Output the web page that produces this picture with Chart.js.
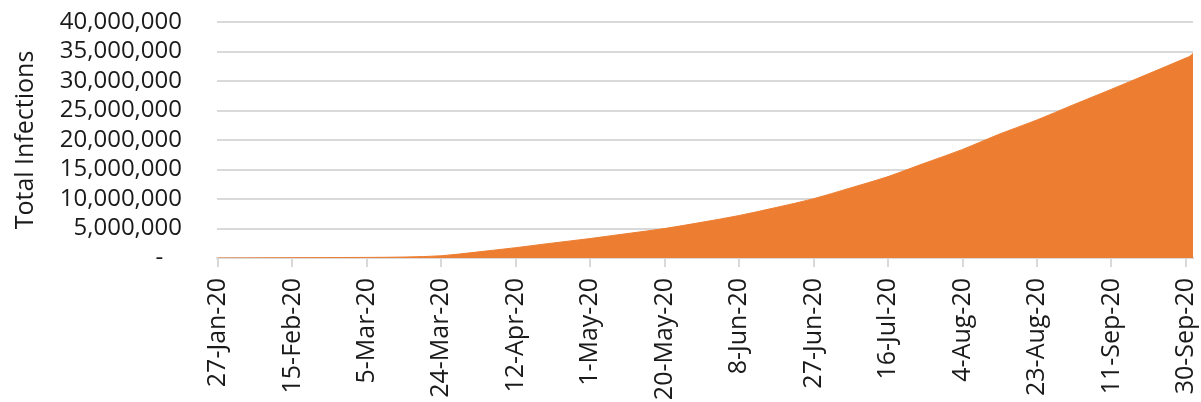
<!DOCTYPE html>
<html>
<head>
<meta charset="utf-8">
<script src="https://cdn.jsdelivr.net/npm/chart.js@4"></script>
<style>
  html, body { margin: 0; padding: 0; background: #fff; overflow: hidden; }
  #wrap { width: 1201px; height: 402px; }
</style>
</head>
<body>
<div id="wrap"><canvas id="grafica"></canvas></div>
<script>
// ── DATOS ─────────────────────────────────────────────
// days since 27-Jan-20
const dayOffsets      = [0, 19, 38, 43, 48, 57, 66, 76, 85, 95, 104, 114, 123, 133, 142, 152, 161, 171, 180, 190, 199, 209, 218, 228, 237, 247, 248, 249];
const totalInfections = [0, 50000, 100000, 120000, 170000, 380000, 1000000, 1750000, 2500000, 3300000, 4100000, 5000000, 6000000, 7200000, 8500000, 10050000, 11800000, 13800000, 16000000, 18400000, 20900000, 23400000, 25900000, 28600000, 31100000, 33900000, 34200000, 34800000];
const tickDays        = [0, 19, 38, 57, 76, 95, 114, 133, 152, 171, 190, 209, 228, 247];
const tickLabels      = ['27-Jan-20', '15-Feb-20', '5-Mar-20', '24-Mar-20', '12-Apr-20', '1-May-20', '20-May-20',
                         '8-Jun-20', '27-Jun-20', '16-Jul-20', '4-Aug-20', '23-Aug-20', '11-Sep-20', '30-Sep-20'];
const yTicks          = [0, 5000000, 10000000, 15000000, 20000000, 25000000, 30000000, 35000000, 40000000];

const naranja = '#ED7D31';
const gris    = '#D9D9D9';
const texto   = '#1a1a1a';

Chart.defaults.font.family = '"Open Sans", sans-serif';
Chart.defaults.font.size = 24;
Chart.defaults.color = texto;

new Chart(document.getElementById('grafica'), {
    type: 'line',
    data: {
        datasets: [{
            data: dayOffsets.map((d, i) => ({ x: d, y: totalInfections[i] })),
            backgroundColor: naranja,
            borderColor: naranja,
            borderWidth: 1,
            fill: 'origin',
            pointRadius: 0,
            cubicInterpolationMode: 'monotone'
        }]
    },
    options: {
        responsive: true,
        maintainAspectRatio: false,
        animation: false,
        layout: { padding: { top: 22, right: 8, left: 0, bottom: 0 } },
        plugins: { legend: { display: false }, tooltip: { enabled: false } },
        scales: {
            x: {
                type: 'linear',
                min: -0.25,
                max: 248.8,
                afterBuildTicks: scale => { scale.ticks = tickDays.map(v => ({ value: v })); },
                afterFit: scale => { scale.height = 144; scale.paddingLeft = 0; scale.paddingRight = 0; },
                grid: { drawOnChartArea: false, drawTicks: true, tickLength: 9, color: gris, lineWidth: 2 },
                border: { color: gris, width: 2 },
                ticks: {
                    autoSkip: false,
                    maxRotation: 90,
                    minRotation: 90,
                    padding: 11,
                    font: { size: 25 },
                    callback: v => tickLabels[tickDays.indexOf(v)]
                }
            },
            y: {
                min: 0,
                max: 40000000,
                afterBuildTicks: scale => { scale.ticks = yTicks.map(v => ({ value: v })); },
                afterFit: scale => { scale.width = 217; scale.paddingTop = 0; scale.paddingBottom = 0; },
                grid: { color: gris, lineWidth: 2, drawTicks: false },
                border: { display: false },
                ticks: {
                    autoSkip: false,
                    padding: 35,
                    font: { size: 24 },
                    callback: v => v === 0 ? '-   ' : v.toLocaleString('en-US')
                },
                title: { display: true, text: 'Total Infections', color: texto, font: { size: 25 }, padding: { top: 11, bottom: 0 } }
            }
        }
    }
});
</script>
</body>
</html>
